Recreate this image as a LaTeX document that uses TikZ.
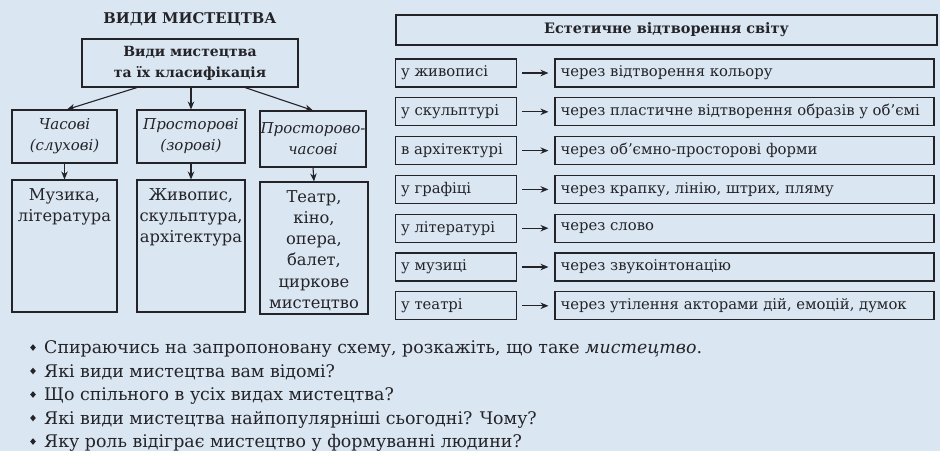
\documentclass[tikz,border=0pt]{standalone}
\usepackage{fontspec}
\setmainfont{DejaVu Serif}
\usetikzlibrary{arrows.meta}
\definecolor{bg}{RGB}{218,230,241}
\definecolor{ink}{RGB}{35,35,40}
\tikzset{
  x=1pt, y=-1pt,
  box/.style={draw=ink, line width=1.1pt, rectangle, inner sep=0pt, fill=bg},
  arr/.style={draw=ink, line width=1.1pt, -{Stealth[length=8pt,width=6.5pt]}},
  txt/.style={text=ink, inner sep=0pt},
  rowtxt/.style={txt, font=\fontsize{14.8}{18}\selectfont, anchor=west},
  midtxt/.style={txt, font=\fontsize{15}{21}\itshape\selectfont, align=center},
  bottxt/.style={txt, font=\fontsize{16.3}{21.3}\selectfont, align=center, anchor=north},
  qtxt/.style={txt, font=\fontsize{17.4}{23}\selectfont, anchor=west},
}
\begin{document}
\begin{tikzpicture}
\fill[bg] (0,0) rectangle (940,451);
\useasboundingbox (0,0) rectangle (940,451);

% title
\node[txt, font=\fontsize{14.8}{20}\bfseries\selectfont] (title) at (190,19) {ВИДИ МИСТЕЦТВА};

% top box
\node[box, minimum width=216pt, minimum height=48pt, align=center,
      font=\fontsize{14}{21}\bfseries\selectfont, text=ink] (top) at (190,63)
      {Види мистецтва\\та їх класифікація};

% middle boxes
\node[box, minimum width=105pt, minimum height=53pt] (m1) at (64.5,136.5) {};
\node[box, minimum width=108pt, minimum height=53pt] (m2) at (191,136.5) {};
\node[box, minimum width=106pt, minimum height=56pt] (m3) at (313,139) {};
\node[midtxt] (m1t) at (m1.center) {Часові\\(слухові)};
\node[midtxt] (m2t) at (m2.center) {Просторові\\(зорові)};
\node[midtxt] (m3t) at (m3.center) {Просторово-\\часові};

% bottom boxes
\node[box, minimum width=105pt, minimum height=132pt] (b1) at (64.5,246) {};
\node[box, minimum width=108pt, minimum height=132pt] (b2) at (191,246) {};
\node[box, minimum width=108pt, minimum height=132pt] (b3) at (314,248) {};
\node[bottxt] (b1t) at ([yshift=-8.5pt]b1.north) {Музика,\\література};
\node[bottxt] (b2t) at ([yshift=-8.5pt]b2.north) {Живопис,\\скульптура,\\архітектура};
\node[bottxt] (b3t) at ([yshift=-8.5pt]b3.north) {Театр,\\кіно,\\опера,\\балет,\\циркове\\мистецтво};

% arrows
\draw[arr] ([xshift=-53pt]top.south) -- ([xshift=2.5pt]m1.north);
\draw[arr] (top.south -| m2.north) -- (m2.north);
\draw[arr] ([xshift=55pt]top.south) -- (m3.north);
\draw[arr] (m1.south) -- (b1.north);
\draw[arr] (m2.south) -- (b2.north);
\draw[arr] (m3.south) -- (b3.north);

% right part
\node[box, minimum width=541pt, minimum height=30pt,
      font=\fontsize{14.4}{20}\bfseries\selectfont, text=ink] (head) at (666.5,30) {Естетичне відтворення світу};

\foreach \i/\a/\b in {
  0/у живописі/через відтворення кольору,
  1/у скульптурі/через пластичне відтворення образів у об’ємі,
  2/в архітектурі/через об’ємно-просторові форми,
  3/у графіці/{через крапку, лінію, штрих, пляму},
  4/у літературі/через слово,
  5/у музиці/через звукоінтонацію,
  6/у театрі/{через утілення акторами дій, емоцій, думок}}{
  \node[box, minimum width=121pt, minimum height=28pt] (l\i) at (456,73+38.8*\i) {};
  \node[box, minimum width=379pt, minimum height=28pt] (r\i) at (744.5,73+38.8*\i) {};
  \node[rowtxt] (lt\i) at ([xshift=6pt]l\i.west) {\a};
  \node[rowtxt] (rt\i) at ([xshift=6pt]r\i.west) {\b};
  \draw[arr] ([xshift=5pt]l\i.east) -- ([xshift=-6pt]r\i.west);
}

% questions
\foreach \k/\q in {
  0/{Спираючись на запропоновану схему, розкажіть, що таке \textit{мистецтво}.},
  1/{Які види мистецтва вам відомі?},
  2/{Що спільного в усіх видах мистецтва?},
  3/{Які види мистецтва найпопулярніші сьогодні? Чому?},
  4/{Яку роль відіграє мистецтво у формуванні людини?}}{
  \node[qtxt] (q\k) at (44,349+23.5*\k) {\q};
  \fill[ink] ([xshift=-11pt,yshift=1.5pt]q\k.west) +(0,-3.3pt) -- +(2.8pt,0) -- +(0,3.3pt) -- +(-2.8pt,0) -- cycle;
}
\end{tikzpicture}
\end{document}
